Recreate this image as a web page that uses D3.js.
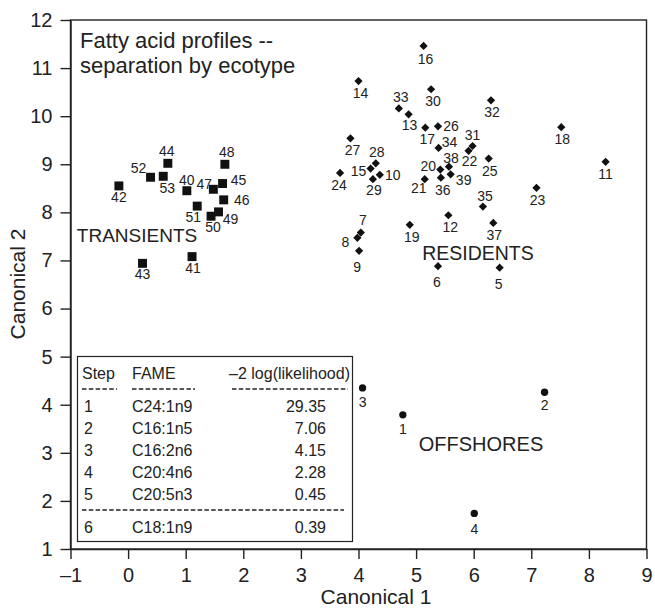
<!DOCTYPE html>
<html><head><meta charset="utf-8">
<script src="https://cdn.jsdelivr.net/npm/d3@7"></script>
<style>
body{margin:0;background:#fff}
svg{display:block}
text{font-family:"Liberation Sans",Arial,Helvetica,sans-serif;fill:#222}
</style>
</head><body><svg id="c" width="655" height="611"></svg>
<script>
// ---------------- DATA ----------------
const transientIds = [42, 52, 53, 44, 40, 47, 45, 48, 46, 51, 49, 50, 43, 41];
const transientX   = [-0.16, 0.39, 0.61, 0.69, 1.02, 1.48, 1.64, 1.68, 1.66, 1.20, 1.57, 1.44, 0.25, 1.11];
const transientY   = [8.55, 8.73, 8.75, 9.02, 8.45, 8.48, 8.60, 9.00, 8.26, 8.13, 8.01, 7.92, 6.94, 7.08];

const residentIds = [16, 14, 30, 32, 33, 13, 17, 26, 34, 31, 22, 27, 25, 28, 15, 24, 10, 29, 20, 38, 39, 36, 21, 35, 12, 19, 37, 7, 8, 9, 6, 5, 18, 11, 23];
const residentX   = [5.13, 4.00, 5.26, 6.30, 4.70, 4.87, 5.16, 5.38, 5.39, 5.98, 5.91, 3.86, 6.26, 4.30, 4.21, 3.68, 4.37, 4.25, 5.42, 5.57, 5.60, 5.43, 5.15, 6.16, 5.56, 4.89, 6.34, 4.04, 3.98, 4.01, 5.38, 6.45, 7.52, 8.29, 7.09];
const residentY   = [11.46, 10.73, 10.56, 10.33, 10.16, 10.04, 9.76, 9.79, 9.34, 9.38, 9.28, 9.54, 9.12, 9.02, 8.91, 8.82, 8.78, 8.69, 8.89, 8.95, 8.79, 8.72, 8.69, 8.12, 7.94, 7.74, 7.78, 7.58, 7.47, 7.20, 6.88, 6.85, 9.77, 9.05, 8.51];

const offshoreIds = [3, 1, 2, 4];
const offshoreX   = [4.07, 4.77, 7.23, 6.01];
const offshoreY   = [4.35, 3.79, 4.26, 1.74];

const xTicks = [-1, 0, 1, 2, 3, 4, 5, 6, 7, 8, 9];
const yTicks = [1, 2, 3, 4, 5, 6, 7, 8, 9, 10, 11, 12];

const tableSteps  = ["1", "2", "3", "4", "5", "6"];
const tableFame   = ["C24:1n9", "C16:1n5", "C16:2n6", "C20:4n6", "C20:5n3", "C18:1n9"];
const tableLogLik = ["29.35", "7.06", "4.15", "2.28", "0.45", "0.39"];

// ---------------- LAYOUT (label offsets in px) ----------------
const transientLabelDx = [0, -12, 4, -1, 0, -9, 16, 2, 18, -4, 12, 2, 0, 1];
const transientLabelDy = [11, -9, 12, -12, -11, -5, -4, -12, 0, 11, 7, 11, 11, 11];
const residentLabelDx  = [2, 2, 2, 1, 2, 1, 2, 13, 11, 0, 1, 2, 1, 1, -12, -1, 13, 1, -12, 2, 13, 2, -6, 2, 2, 2, 1, 2, -12, -2, -1, -1, 1, 0, 1];
const residentLabelDy  = [13, 12, 12, 12, -11, 11, 11, 0, -6, -11, 10, 12, 12, -11, 2, 12, 0, 11, -4, -9, 6, 12, 9, -11, 12, 12, 12, -13, 4, 16, 16, 16, 12, 12, 12];
const offshoreLabelDx  = [0, 0, 0, 0];
const offshoreLabelDy  = [14, 14, 13, 16];

// ---------------- CHART ----------------
const svg = d3.select("#c");
const L = 70.5, R = 646.5, T = 20, B = 549;
const x = d3.scaleLinear().domain([-1, 9]).range([L, R]);
const y = d3.scaleLinear().domain([1, 12]).range([B, T]);
const ink = "#222";

svg.append("rect").attr("x", L).attr("y", T).attr("width", R - L).attr("height", B - T)
  .attr("fill", "none").attr("stroke", ink).attr("stroke-width", 1.4);

const fmt = d => d < 0 ? "\u2013" + (-d) : String(d);
const xAxis = svg.append("g").attr("transform", `translate(0,${B})`)
  .call(d3.axisBottom(x).tickValues(xTicks).tickFormat(fmt).tickSize(10).tickSizeOuter(0).tickPadding(9));
const yAxis = svg.append("g").attr("transform", `translate(${L},0)`)
  .call(d3.axisLeft(y).tickValues(yTicks).tickFormat(fmt).tickSize(10).tickSizeOuter(0).tickPadding(8));
[xAxis, yAxis].forEach(g => {
  g.select(".domain").attr("stroke", ink).attr("stroke-width", 1.4);
  g.selectAll(".tick line").attr("stroke", ink).attr("stroke-width", 1.4);
  g.selectAll(".tick text").attr("fill", ink).style("font-size", "20px")
    .style("font-family", '"Liberation Sans",Arial,Helvetica,sans-serif');
});

svg.append("text").attr("x", 376).attr("y", 604).attr("text-anchor", "middle")
  .style("font-size", "21px").text("Canonical 1");
svg.append("text").attr("transform", "translate(25,284) rotate(-90)").attr("text-anchor", "middle")
  .style("font-size", "21px").text("Canonical 2");

svg.append("text").attr("x", 80).attr("y", 48).style("font-size", "22px").text("Fatty acid profiles --");
svg.append("text").attr("x", 80).attr("y", 73).style("font-size", "22px").text("separation by ecotype");

svg.append("text").attr("x", 137).attr("y", 242).attr("text-anchor", "middle").style("font-size", "19px").text("TRANSIENTS");
svg.append("text").attr("x", 478).attr("y", 260).attr("text-anchor", "middle").style("font-size", "19.5px").text("RESIDENTS");
svg.append("text").attr("x", 481).attr("y", 451).attr("text-anchor", "middle").style("font-size", "20px").text("OFFSHORES");

function group(ids, xs, ys, dxs, dys, symbol, size, rot) {
  const data = ids.map((id, i) => ({id, x: xs[i], y: ys[i], dx: dxs[i], dy: dys[i]}));
  const g = svg.append("g");
  g.selectAll("path").data(data).join("path")
    .attr("d", d3.symbol().type(symbol).size(size))
    .attr("transform", d => `translate(${x(d.x)},${y(d.y)}) rotate(${rot})`)
    .attr("fill", "#111");
  g.selectAll("text").data(data).join("text")
    .attr("x", d => x(d.x) + d.dx).attr("y", d => y(d.y) + d.dy)
    .attr("text-anchor", "middle").attr("dominant-baseline", "central")
    .style("font-size", "14px").text(d => d.id);
}
group(transientIds, transientX, transientY, transientLabelDx, transientLabelDy, d3.symbolSquare, 80, 0);
group(residentIds, residentX, residentY, residentLabelDx, residentLabelDy, d3.symbolSquare, 34, 45);
group(offshoreIds, offshoreX, offshoreY, offshoreLabelDx, offshoreLabelDy, d3.symbolCircle, 42, 0);

// table
const tb = {l: 77.5, t: 356.5, r: 352.5, b: 541.5};
svg.append("rect").attr("x", tb.l).attr("y", tb.t).attr("width", tb.r - tb.l).attr("height", tb.b - tb.t)
  .attr("fill", "#fff").attr("stroke", ink).attr("stroke-width", 1.2);
const tf = "16px";
const colStep = 82, colFame = 132, colVal = 326;
svg.append("text").attr("x", colStep).attr("y", 379).style("font-size", tf).text("Step");
svg.append("text").attr("x", colFame).attr("y", 379).style("font-size", tf).text("FAME");
svg.append("text").attr("x", 350).attr("y", 379).attr("text-anchor", "end").style("font-size", tf).text("\u20132 log(likelihood)");
const dash = (x1, x2, yy) => svg.append("line").attr("x1", x1).attr("x2", x2).attr("y1", yy).attr("y2", yy)
  .attr("stroke", ink).attr("stroke-width", 1.3).attr("stroke-dasharray", "4.5,2.3");
dash(82, 117, 389); dash(132, 195, 389); dash(232, 348, 389);
const rowY = [412, 434, 456, 478, 500, 533];
tableSteps.forEach((s, i) => {
  svg.append("text").attr("x", colStep + 2).attr("y", rowY[i]).style("font-size", tf).text(s);
  svg.append("text").attr("x", colFame).attr("y", rowY[i]).style("font-size", tf).text(tableFame[i]);
  svg.append("text").attr("x", colVal).attr("y", rowY[i]).attr("text-anchor", "end").style("font-size", tf).text(tableLogLik[i]);
});
dash(82, 344, 510);
</script>
</body></html>
